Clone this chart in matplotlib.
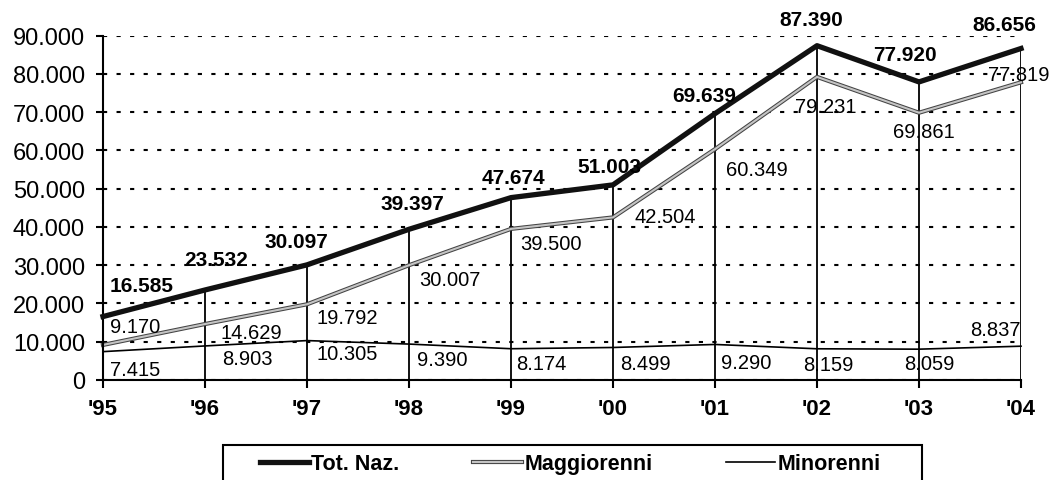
import numpy as np
import matplotlib
matplotlib.use("Agg")
import matplotlib.pyplot as plt
import matplotlib.patheffects as pe
from matplotlib.patches import Rectangle
from matplotlib.ticker import FuncFormatter

plt.rcParams['font.family'] = ['Liberation Sans', 'DejaVu Sans']

years = ["'95", "'96", "'97", "'98", "'99", "'00", "'01", "'02", "'03", "'04"]
tot_naz = [16585, 23532, 30097, 39397, 47674, 51003, 69639, 87390, 77920, 86656]
maggiorenni = [9170, 14629, 19792, 30007, 39500, 42504, 60349, 79231, 69861, 77819]
minorenni = [7415, 8903, 10305, 9390, 8174, 8499, 9290, 8159, 8059, 8837]

# label offsets from each point, in pixels
tot_off = [(39, 31), (11, 30), (-11, 23), (3, 26), (2, 20), (-4, 18), (-11, 18), (-6, 26), (-14, 27), (-17, 24)]
magg_off = [(32, 18), (46, -8), (40, -13), (41, -14), (40, -15), (52, 1), (42, -20), (9, -30), (5, -19), (-2, 8)]
min_off = [(32, -18), (42, -13), (40, -13), (33, -15), (30, -15), (32, -16), (31, -18), (11, -16), (10, -14), (-26, 17)]


def fmt(v):
    return f"{v:,.0f}".replace(",", ".")


fig = plt.figure(figsize=(10.51, 4.81), dpi=100)
ax = fig.add_axes([103 / 1051, 100 / 481, 918 / 1051, 344.3 / 481])

x = np.arange(len(years))

ax.yaxis.grid(True, linestyle=(0, (2, 4.5)), color='black', lw=1.5)
ax.vlines(x, 0, tot_naz, colors='black', lw=1.3, zorder=1.5)

l_min, = ax.plot(x, minorenni, color='black', lw=1.2, clip_on=False, label='Minorenni', zorder=2)
l_mag, = ax.plot(x, maggiorenni, color='#c4c4c4', lw=1.5, clip_on=False, label='Maggiorenni', zorder=2.5,
                 path_effects=[pe.Stroke(linewidth=3.0, foreground='#444444'), pe.Normal()])
l_tot, = ax.plot(x, tot_naz, color='#111111', lw=3.8, clip_on=False, label='Tot. Naz.', zorder=3)

for i in range(len(years)):
    ax.annotate(fmt(tot_naz[i]), (x[i], tot_naz[i]), xytext=tot_off[i], textcoords='offset pixels',
                ha='center', va='center', fontsize=15, fontweight='bold', zorder=5)
    ax.annotate(fmt(maggiorenni[i]), (x[i], maggiorenni[i]), xytext=magg_off[i], textcoords='offset pixels',
                ha='center', va='center', fontsize=14.5, zorder=5)
    ax.annotate(fmt(minorenni[i]), (x[i], minorenni[i]), xytext=min_off[i], textcoords='offset pixels',
                ha='center', va='center', fontsize=14.5, zorder=5)

ax.set_xlim(0, 9)
ax.set_ylim(0, 90000)
ax.set_xticks(x)
ax.set_xticklabels(years, fontweight='bold')
ax.set_yticks(np.arange(0, 90001, 10000))
ax.yaxis.set_major_formatter(FuncFormatter(lambda v, p: fmt(v)))

for s in ['top', 'right']:
    ax.spines[s].set_visible(False)
for s in ['left', 'bottom']:
    ax.spines[s].set_linewidth(1.5)

ax.tick_params(axis='y', length=5, width=1.5, pad=8, labelsize=17)
ax.tick_params(axis='x', length=6, width=1.5, pad=7, labelsize=16)

fig.legend(handles=[l_tot, l_mag, l_min], loc='center', bbox_to_anchor=(570 / 1051, 1 - 465 / 481),
           ncol=3, frameon=False, prop={'weight': 'bold', 'size': 15.5},
           handlelength=2.3, handletextpad=0.1, columnspacing=3.4, borderpad=0)
fig.patches.append(Rectangle((223 / 1051, -0.1), (922 - 223) / 1051, 0.1 + 1 - 446 / 481,
                             transform=fig.transFigure, fill=False, ec='black', lw=1.5))

fig.savefig('out.png', dpi=100)
